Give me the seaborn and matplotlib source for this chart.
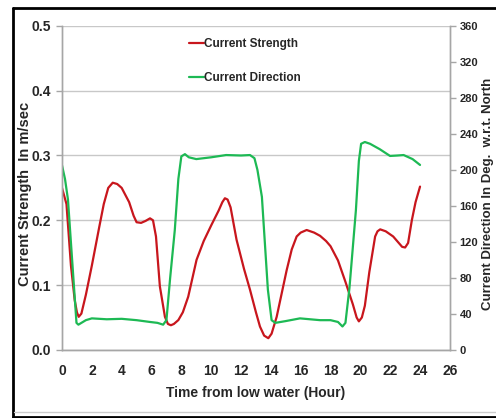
import numpy as np
import pandas as pd
import matplotlib.pyplot as plt
import seaborn as sns
from matplotlib.lines import Line2D

# ─── Data ───────────────────────────────────────────────────────────────────
hour_strength = [0, 0.3, 0.6, 0.85, 1.0, 1.12, 1.3, 1.6, 2.0, 2.5, 2.8, 3.1, 3.4, 3.7,
                 4.0, 4.5, 4.8, 5.0, 5.3, 5.6, 5.9, 6.1, 6.3, 6.56, 6.9, 7.1, 7.3, 7.5,
                 7.8, 8.1, 8.46, 9.02, 9.5, 10.02, 10.5, 10.75, 10.92, 11.1, 11.3, 11.7,
                 12.2, 12.6, 13.0, 13.27, 13.55, 13.83, 14.05, 14.39, 15.06, 15.4, 15.73,
                 16.0, 16.4, 16.9, 17.3, 17.7, 18.0, 18.5, 19.0, 19.5, 19.75, 19.9, 20.1,
                 20.3, 20.6, 20.99, 21.15, 21.33, 21.7, 22.2, 22.5, 22.8, 23.0, 23.2,
                 23.45, 23.7, 24.0]
strength = [0.25, 0.225, 0.13, 0.077, 0.058, 0.051, 0.056, 0.085, 0.13, 0.19, 0.225,
            0.25, 0.258, 0.256, 0.25, 0.228, 0.207, 0.197, 0.196, 0.199, 0.203, 0.2,
            0.175, 0.098, 0.051, 0.04, 0.038, 0.04, 0.046, 0.058, 0.082, 0.139, 0.168,
            0.193, 0.215, 0.228, 0.234, 0.232, 0.22, 0.17, 0.125, 0.093, 0.058, 0.036,
            0.022, 0.018, 0.025, 0.051, 0.123, 0.155, 0.175, 0.181, 0.185, 0.181,
            0.176, 0.168, 0.16, 0.138, 0.105, 0.07, 0.05, 0.044, 0.05, 0.068, 0.12,
            0.175, 0.183, 0.186, 0.183, 0.175, 0.167, 0.159, 0.158, 0.165, 0.2, 0.228,
            0.252]

hour_direction = [0, 0.2, 0.4, 0.7, 0.97, 1.1, 1.3, 1.6, 2.0, 3.0, 4.0, 5.0, 5.9, 6.4,
                  6.78, 7.0, 7.25, 7.56, 7.8, 8.0, 8.24, 8.5, 9.0, 10.0, 11.0, 12.0,
                  12.6, 12.9, 13.1, 13.4, 13.8, 14.05, 14.3, 15.0, 15.95, 17.3, 18.0,
                  18.5, 18.8, 19.0, 19.27, 19.7, 19.9, 20.05, 20.3, 20.65, 21.3, 21.99,
                  22.5, 22.9, 23.5, 24.0]
direction = [205, 190, 167, 95, 30, 28, 30, 33, 35, 34, 34.5, 33, 31, 30, 28, 33, 80,
             133, 190, 215, 217.5, 214, 212, 214, 216.5, 216, 216.5, 213, 200, 170, 67,
             33, 30, 32, 35, 33, 33, 31, 26, 30, 69, 155, 210, 229, 231, 229, 223,
             215.5, 216, 216.5, 212, 205.5]

strength_ticks = [0.0, 0.1, 0.2, 0.3, 0.4, 0.5]
direction_ticks = [0, 40, 80, 120, 160, 200, 240, 280, 320, 360]
hour_ticks = list(range(0, 27, 2))

df_s = pd.DataFrame({'hour': hour_strength, 'value': strength})
df_d = pd.DataFrame({'hour': hour_direction, 'value': direction})

# ─── Style ──────────────────────────────────────────────────────────────────
sns.set_style('white')
plt.rcParams['font.family'] = ['Liberation Sans', 'DejaVu Sans']
plt.rcParams['font.weight'] = 'bold'

red = '#c8161d'
green = '#1db954'
axis_gray = '#a6a6a6'
grid_gray = '#c8c8c8'

fig = plt.figure(figsize=(4.96, 4.18), dpi=100)
ax = fig.add_axes([0.125, 0.163, 0.782, 0.775])
ax2 = ax.twinx()

sns.lineplot(data=df_s, x='hour', y='value', ax=ax, color=red, linewidth=1.6, sort=False)
sns.lineplot(data=df_d, x='hour', y='value', ax=ax2, color=green, linewidth=1.6, sort=False)

ax.set_xlim(0, 26)
ax.set_ylim(0, 0.5)
ax2.set_ylim(0, 360)
ax.set_xticks(hour_ticks)
ax.set_yticks(strength_ticks)
ax.set_yticklabels([f'{t:.1f}' for t in strength_ticks])
ax2.set_yticks(direction_ticks)

ax.yaxis.grid(True, color=grid_gray, linewidth=1.0)
ax.set_axisbelow(True)

for a in (ax, ax2):
    for side in ('left', 'right', 'bottom'):
        a.spines[side].set_color(axis_gray)
        a.spines[side].set_linewidth(1.0)
    a.spines['top'].set_visible(False)
    a.tick_params(length=4, color=axis_gray, width=1.0, labelsize=10)
ax.tick_params(axis='x', pad=6)
ax.tick_params(axis='y', pad=4)
ax2.tick_params(axis='y', pad=3, labelsize=8)

ax.set_xlabel('Time from low water (Hour)', fontsize=10, fontweight='bold', labelpad=6)
ax.set_ylabel('Current Strength  In m/sec', fontsize=10.5, fontweight='bold')
ax.yaxis.set_label_coords(-0.078, 0.48)
ax2.set_ylabel('Current Direction In Deg.  w.r.t. North', fontsize=9.5, fontweight='bold')
ax2.yaxis.set_label_coords(1.084, 0.48)

handles = [Line2D([], [], color=red, linewidth=1.6),
           Line2D([], [], color=green, linewidth=1.6)]
ax.legend(handles, ['Current Strength', 'Current Direction'], loc='upper left',
          bbox_to_anchor=(0.30, 0.995), frameon=False, handlelength=1.3,
          handletextpad=0.0, labelspacing=1.85, prop={'size': 8.5, 'weight': 'bold'})

# outer frame of the picture
fig.add_artist(Line2D([13 / 496, 13 / 496], [0, 1 - 8 / 418], color='black', linewidth=2,
                      transform=fig.transFigure))
fig.add_artist(Line2D([13 / 496, 1], [1 - 8 / 418, 1 - 8 / 418], color='black', linewidth=2,
                      transform=fig.transFigure))
fig.add_artist(Line2D([13 / 496, 1], [1.5 / 418, 1.5 / 418], color='black', linewidth=2,
                      transform=fig.transFigure))
fig.add_artist(Line2D([14 / 496, 1], [6 / 418, 6 / 418], color='#cccccc', linewidth=1,
                      transform=fig.transFigure))

fig.savefig('out.png', dpi=100)
